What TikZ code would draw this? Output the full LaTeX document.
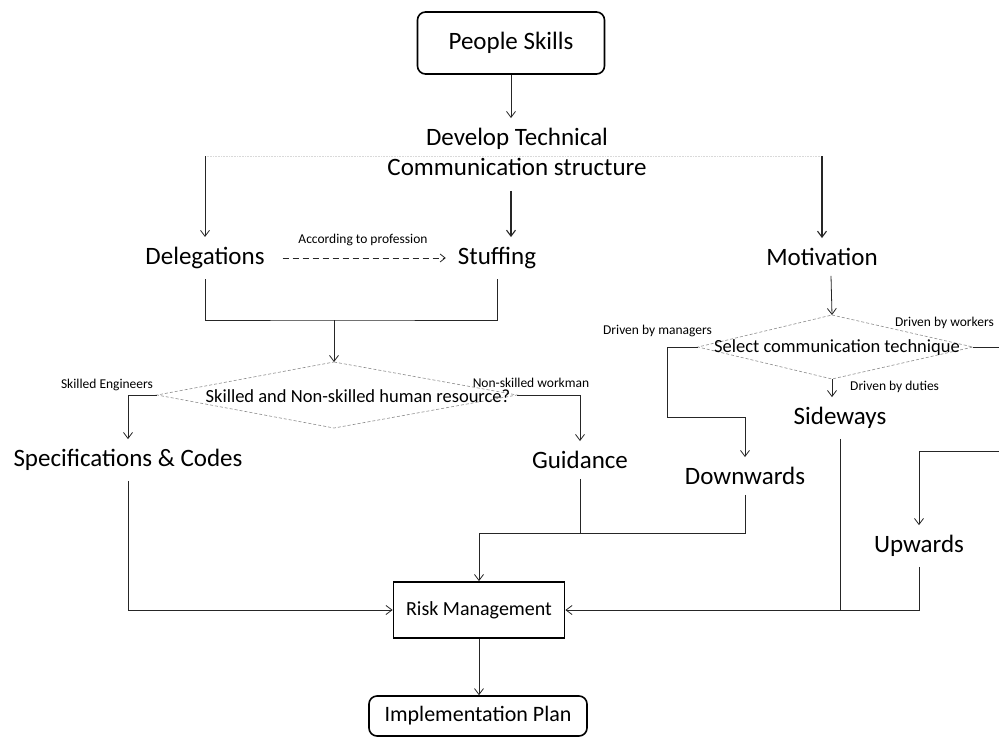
\documentclass[tikz,border=0pt]{standalone}
\usepackage{fontspec}
\setmainfont{Carlito}
\usetikzlibrary{arrows.meta}
\begin{document}
\begin{tikzpicture}[x=1pt,y=-1pt,
  conn/.style={draw=black!85, line width=0.8pt},
  arr/.style={conn, -{Straight Barb[length=6pt,width=9pt]}},
  big/.style={font=\fontsize{25}{30}\selectfont, inner xsep=4pt, inner ysep=10pt},
  small/.style={font=\fontsize{13.5}{16}\selectfont, inner sep=1pt},
  mid/.style={font=\fontsize{18.5}{22}\selectfont, inner sep=0pt},
  dline/.style={draw=black!45, densely dashed, line width=0.6pt},
  faint/.style={draw=black!15, densely dotted, line width=0.6pt},
  rbox/.style={draw, line width=1.6pt, rounded corners=8pt}
]
\useasboundingbox (0,0) rectangle (999,737);
\fill[white] (0,0) rectangle (999,737);

% --- top of the chart
\node[rbox, font=\fontsize{25}{30}\selectfont, minimum width=187, minimum height=62] (ps) at (511,43) {People Skills};
\node[big, align=center] (dev) at (517,152) {Develop Technical\\Communication structure};
\draw[arr] (ps.south) -- (ps.south |- dev.north);

% --- first level
\node[big] (del) at (205,258) {Delegations};
\node[big] (stf) at (497,258) {Stuffing};
\node[big] (mot) at (822,257) {Motivation};

\coordinate (busL) at (205,156);
\coordinate (busR) at (822,156);
\draw[faint] (busL) -- (busR);
\draw[arr] (busL) -- (del.north);
\draw[arr, line width=1.1pt] (busR) -- (mot.north);
\draw[arr, line width=1.1pt, shorten <=5pt] (ps.south |- dev.south) -- (ps.south |- stf.north);

\draw[conn, dashed, dash pattern=on 6pt off 4pt, -{Straight Barb[length=5pt,width=8pt]},
      shorten <=14pt, shorten >=8pt] (del.east) -- (stf.west);
\node[small] (prof) at (363,240) {According to profession};

% --- human resource decision
\coordinate (j) at (334,320);
\draw[conn] (del.south) |- (j) -| (stf.south);
\coordinate (d1n) at (334,362);
\coordinate (d1s) at (334,428);
\coordinate (d1w) at (157,395);
\coordinate (d1e) at (517,395);
\draw[dline] (d1n) -- (d1e) -- (d1s) -- (d1w) -- cycle;
\node[mid] (d1) at (358,396) {Skilled and Non-skilled human resource?};
\draw[arr] (j) -- (d1n);
\node[small] (se) at (107,385) {Skilled Engineers};
\node[small] (nsw) at (531,383) {Non-skilled workman};

\node[big] (spec) at (128,460) {Specifications \& Codes};
\node[big] (gui) at (580,460) {Guidance};
\draw[arr] (d1w) -| (spec.north);
\draw[arr] (d1e) -| (gui.north);

% --- communication technique decision
\coordinate (d2n) at (832,315);
\coordinate (d2s) at (832,379);
\coordinate (d2w) at (698,347);
\coordinate (d2e) at (973,347);
\draw[dline] (d2n) -- (d2e) -- (d2s) -- (d2w) -- cycle;
\node[mid] (d2) at (837,348) {Select communication technique};
\draw[arr] ([xshift=9pt]mot.south) -- (d2n);
\node[small, anchor=east] (dm) at (713,331) {Driven by managers};
\node[small, anchor=east] (dw) at (995,323) {Driven by workers};
\node[small, anchor=west] (dd) at (849,387) {Driven by duties};

\node[big] (side) at (840,418) {Sideways};
\node[big] (down) at (745,476) {Downwards};
\node[big] (up) at (919,546) {Upwards};

\coordinate (m1) at (667,417);
\draw[arr] (d2w) -| (m1) -| (down.north);
\draw[arr] (d2s) -- (d2s |- side.north);
\coordinate (w1) at (1010,451);
\draw[arr] (d2e) -| (w1) -| (up.north);

% --- risk management and plan
\node[draw, line width=1.8pt, font=\fontsize{20}{24}\selectfont, minimum width=171, minimum height=56] (risk) at (479,610) {Risk Management};
\node[rbox, font=\fontsize{22}{24}\selectfont, minimum width=218, minimum height=40] (impl) at (478,716) {Implementation Plan};

\coordinate (j2) at (479,533);
\draw[conn] (gui.south) |- (j2);
\draw[conn] (down.south) |- (j2);
\draw[arr] (j2) -- (risk.north);
\draw[arr] (spec.south) |- (risk.west);
\draw[conn] (side.south) -- (side.south |- risk.east);
\draw[arr] (up.south) |- (risk.east);
\draw[arr] (risk.south) -- (risk.south |- impl.north);
\end{tikzpicture}
\end{document}
